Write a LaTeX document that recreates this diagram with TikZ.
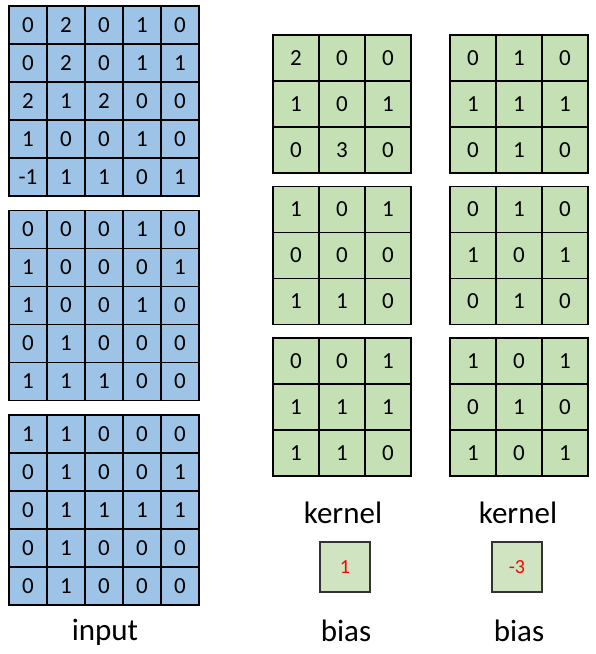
\documentclass[tikz,border=0pt]{standalone}
\usepackage{fontspec}
\setmainfont{Carlito}
\usepackage{tikz}
\usetikzlibrary{positioning,calc}
\definecolor{inputblue}{RGB}{157,195,230}
\definecolor{kernelgreen}{RGB}{197,224,180}
\definecolor{biasgreen}{RGB}{208,228,193}
\tikzset{
  incell/.style={
    draw=black, line width=1.1pt, fill=inputblue,
    minimum size=38pt, inner sep=0pt, anchor=center,
    font=\fontsize{23}{23}\selectfont
  },
  kcell/.style={
    draw=black, line width=1.1pt, fill=kernelgreen,
    minimum size=46pt, inner sep=0pt, anchor=center,
    font=\fontsize{23}{23}\selectfont
  },
  biasbox/.style={
    draw=black!80, line width=1.1pt, fill=biasgreen,
    minimum size=50pt, inner sep=0pt,
    text=red, font=\fontsize{20}{20}\selectfont
  },
  caption/.style={font=\fontsize{31}{31}\selectfont, inner sep=0pt}
}

\begin{document}
\begin{tikzpicture}[x=1pt,y=1pt]
  \useasboundingbox (0,0) rectangle (596,654);

  % Input channels (5x5)
  \foreach \grid [count=\g] in {
      {{0,2,0,1,0},{0,2,0,1,1},{2,1,2,0,0},{1,0,0,1,0},{-1,1,1,0,1}},
      {{0,0,0,1,0},{1,0,0,0,1},{1,0,0,1,0},{0,1,0,0,0},{1,1,1,0,0}},
      {{1,1,0,0,0},{0,1,0,0,1},{0,1,1,1,1},{0,1,0,0,0},{0,1,0,0,0}}}
    \foreach \row [count=\r] in \grid
      \foreach \v [count=\c] in \row
        \node[incell] (in\g-\r-\c)
          at ({9+38*(\c-0.5)},{654-(6+204.5*(\g-1))-38*(\r-0.5)}) {\v};

  % First kernel (3 channels, 3x3)
  \foreach \grid [count=\g] in {
      {{2,0,0},{1,0,1},{0,3,0}},
      {{1,0,1},{0,0,0},{1,1,0}},
      {{0,0,1},{1,1,1},{1,1,0}}}
    \foreach \row [count=\r] in \grid
      \foreach \v [count=\c] in \row
        \node[kcell] (ka\g-\r-\c)
          at ({273+46*(\c-0.5)},{654-(35+151.5*(\g-1))-46*(\r-0.5)}) {\v};

  % Second kernel (3 channels, 3x3)
  \foreach \grid [count=\g] in {
      {{0,1,0},{1,1,1},{0,1,0}},
      {{0,1,0},{1,0,1},{0,1,0}},
      {{1,0,1},{0,1,0},{1,0,1}}}
    \foreach \row [count=\r] in \grid
      \foreach \v [count=\c] in \row
        \node[kcell] (kb\g-\r-\c)
          at ({450+46*(\c-0.5)},{654-(35+151.5*(\g-1))-46*(\r-0.5)}) {\v};

  % Biases
  \node[biasbox] (biasa) at (345,87) {1};
  \node[biasbox] (biasb) at (517,87) {-3};

  % Captions
  \node[caption] (inlabel) at (105,22) {input};
  \node[caption] (kalabel) at (343,141) {kernel};
  \node[caption] (kblabel) at (518,141) {kernel};
  \node[caption] (balabel) at (346,23) {bias};
  \node[caption] (bblabel) at (519,23) {bias};
\end{tikzpicture}
\end{document}
